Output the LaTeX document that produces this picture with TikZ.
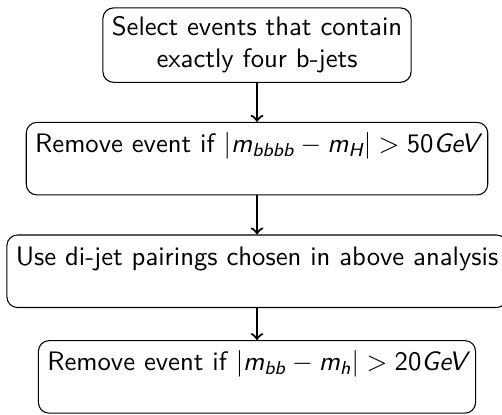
\documentclass[tikz,border=0pt]{standalone}
\usepackage{amsmath}
\renewcommand{\familydefault}{\sfdefault}
\usetikzlibrary{positioning}

\newcommand{\sfv}[1]{\textit{#1}}

\tikzset{
	stage/.style = {draw, rounded corners, align=center},
	lowstage/.style = {stage, text height=8pt, text depth=12.5pt}
}

\begin{document}
\begin{tikzpicture}[x = 1pt, y = 1pt, node distance = 14.6pt]
		\useasboundingbox (0,0) rectangle (188,155.4);
		\node[stage] (select) at (96.25,138.5) {Select events that contain\\exactly four b-jets};
		\node[lowstage, below = of select] (cutfour) {Remove event if $|\sfv{m}_{\sfv{bbbb}} - \sfv{m}_{\sfv{H}}| > \text{50}\sfv{GeV}$};
		\node[lowstage, below = of cutfour] (pairing) {Use di-jet pairings chosen in above analysis};
		\node[lowstage, below = 12pt of pairing] (cuttwo) {Remove event if $|\sfv{m}_{\sfv{bb}} - \sfv{m}_{\sfv{h}}| > \text{20}\sfv{GeV}$};
		\draw[->, thick] (select) -- (cutfour);
		\draw[->, thick] (cutfour) -- (pairing);
		\draw[->, thick] (pairing) -- (cuttwo);
	\end{tikzpicture}
\end{document}
